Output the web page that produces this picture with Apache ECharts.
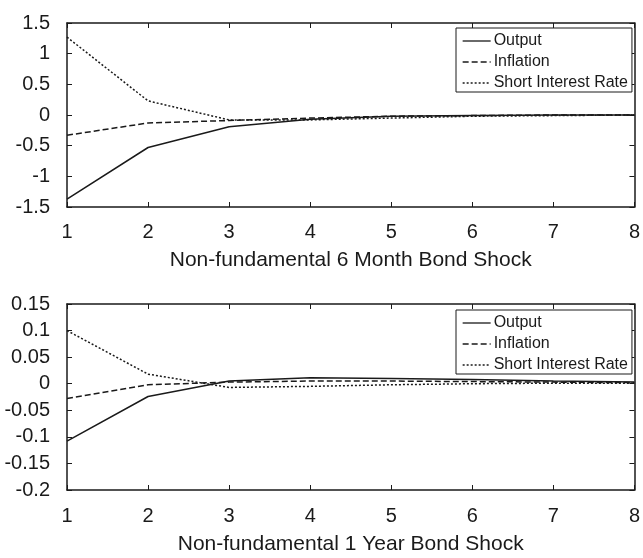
<!DOCTYPE html>
<html lang="en">
<head>
    <meta charset="UTF-8">
    <title>Non-fundamental bond shocks</title>
    <script src="https://cdn.jsdelivr.net/npm/echarts@6/dist/echarts.min.js"></script>
    <style>
        html, body { margin: 0; padding: 0; background: #fff; }
        #chart { width: 643px; height: 558px; }
    </style>
</head>
<body>
    <div id="chart"></div>
    <script>
        // horizon (periods)
        var periods = [1, 2, 3, 4, 5, 6, 7, 8];
        var seriesNames = ['Output', 'Inflation', 'Short Interest Rate'];

        // 6 month bond shock
        var output6m = [-1.37, -0.53, -0.19, -0.07, -0.02, -0.01, 0, 0];
        var inflation6m = [-0.33, -0.13, -0.09, -0.05, -0.02, -0.01, 0, 0];
        var rate6m = [1.27, 0.23, -0.08, -0.08, -0.05, -0.02, -0.01, 0];

        // 1 year bond shock
        var output1y = [-0.108, -0.024, 0.005, 0.011, 0.01, 0.008, 0.005, 0.003];
        var inflation1y = [-0.028, -0.002, 0.003, 0.005, 0.005, 0.004, 0.003, 0.002];
        var rate1y = [0.1, 0.018, -0.007, -0.005, -0.002, 0, 0.001, 0.001];

        var chart = echarts.init(document.getElementById('chart'));
        var FONT = 'Liberation Sans, Arial, sans-serif';
        var INK = '#1a1a1a';

        function pairs(vals) {
            return periods.map(function (p, i) { return [p, vals[i]]; });
        }

        function bottomX(idx, title, labelGap, nameGap) {
            return {
                gridIndex: idx, type: 'value', min: 1, max: 8, interval: 1,
                name: title, nameLocation: 'middle', nameGap: nameGap, nameMoveOverlap: false,
                nameTextStyle: { color: INK, fontSize: 21, fontFamily: FONT },
                axisLine: { show: true, onZero: false, lineStyle: { color: INK, width: 1.5 } },
                axisTick: { show: true, inside: true, length: 5, lineStyle: { color: INK } },
                axisLabel: { color: INK, fontSize: 20, fontFamily: FONT, margin: labelGap },
                splitLine: { show: false }
            };
        }
        function topX(idx) {
            return {
                gridIndex: idx, type: 'value', min: 1, max: 8, interval: 1, position: 'top',
                axisLine: { show: true, onZero: false, lineStyle: { color: INK, width: 1.5 } },
                axisTick: { show: true, inside: true, length: 5, lineStyle: { color: INK } },
                axisLabel: { show: false },
                splitLine: { show: false }
            };
        }
        function leftY(idx, min, max, step) {
            return {
                gridIndex: idx, type: 'value', min: min, max: max, interval: step,
                axisLine: { show: true, onZero: false, lineStyle: { color: INK, width: 1.5 } },
                axisTick: { show: true, inside: true, length: 5, lineStyle: { color: INK } },
                axisLabel: { color: INK, fontSize: 20, fontFamily: FONT, margin: 17 },
                splitLine: { show: false }
            };
        }
        function rightY(idx, min, max, step) {
            return {
                gridIndex: idx, type: 'value', min: min, max: max, interval: step, position: 'right',
                axisLine: { show: true, onZero: false, lineStyle: { color: INK, width: 1.5 } },
                axisTick: { show: true, inside: true, length: 5, lineStyle: { color: INK } },
                axisLabel: { show: false },
                splitLine: { show: false }
            };
        }

        var dashes = ['solid', [6, 3], [2, 2]];

        function makeSeries(gridIdx, valsList) {
            return valsList.map(function (vals, i) {
                return {
                    name: seriesNames[i], type: 'line',
                    xAxisIndex: gridIdx * 2, yAxisIndex: gridIdx * 2,
                    data: pairs(vals), symbol: 'none', silent: true,
                    lineStyle: { color: INK, width: 1.5, type: dashes[i] },
                    itemStyle: { color: INK }
                };
            });
        }

        function legendAt(top) {
            return {
                data: seriesNames, orient: 'vertical', left: 456, top: top,
                itemWidth: 28, itemHeight: 14, itemGap: 5, padding: [5, 4, 1, 6],
                borderColor: INK, borderWidth: 1, backgroundColor: '#fff',
                selectedMode: false,
                itemStyle: { color: 'transparent', borderWidth: 0 },
                lineStyle: { width: 1.3 },
                textStyle: { color: INK, fontSize: 16, fontFamily: FONT, padding: [0, 0, 0, -2] }
            };
        }

        var option = {
            animation: false,
            backgroundColor: '#fff',
            grid: [
                { left: 67, top: 23, width: 569, height: 184 },
                { left: 67, top: 304, width: 569, height: 186 }
            ],
            xAxis: [
                bottomX(0, 'Non-fundamental 6 Month Bond Shock', 15, 43), topX(0),
                bottomX(1, 'Non-fundamental 1 Year Bond Shock', 16, 44), topX(1)
            ],
            yAxis: [
                leftY(0, -1.5, 1.5, 0.5), rightY(0, -1.5, 1.5, 0.5),
                leftY(1, -0.2, 0.15, 0.05), rightY(1, -0.2, 0.15, 0.05)
            ],
            legend: [legendAt(28), legendAt(310)],
            series: makeSeries(0, [output6m, inflation6m, rate6m])
                .concat(makeSeries(1, [output1y, inflation1y, rate1y]))
        };

        chart.setOption(option);
    </script>
</body>
</html>
